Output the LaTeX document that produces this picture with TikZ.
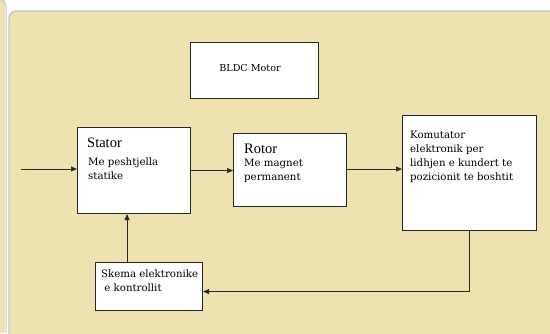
\documentclass[tikz,border=0pt]{standalone}
\usepackage{fontspec}
\usepackage{xcolor}
\usetikzlibrary{arrows.meta}
\newfontfamily\headfont{Liberation Serif}
\newfontfamily\bodyfont{DejaVu Serif}
\definecolor{panel}{RGB}{238,226,177}
\definecolor{rim}{RGB}{196,196,196}

\begin{document}
\begin{tikzpicture}[x=1pt,y=-1pt,
  blk/.style={draw=black!85,line width=1.1pt,fill=white,inner sep=0pt,anchor=north west},
  hd/.style={font=\headfont\fontsize{14.5}{16}\selectfont,inner sep=0pt,anchor=base west},
  txt/.style={font=\bodyfont\fontsize{10.2}{14}\selectfont,align=left,inner sep=0pt,anchor=north west},
  flow/.style={-{Triangle[length=6pt,width=5pt]},line width=0.7pt,black!85}]
\useasboundingbox (0,0) rectangle (550,333);
% background
\fill[white] (0,0) rectangle (550,333);
\fill[panel] (0,0) rectangle (5,333);
\draw[rim,line width=1pt] (1,0) to[out=0,in=90] (6,6) -- (6,333);
\draw[rim,fill=panel,line width=1.2pt] (560,11) -- (16,11) to[out=180,in=90] (9,18) -- (9,345) -- (560,345);
% blocks
\node[blk,minimum width=128,minimum height=56] (motor) at (190,42) {};
\node[font=\bodyfont\fontsize{9.6}{11}\selectfont] (motorT) at (250,68) {BLDC Motor};
\node[blk,minimum width=113,minimum height=86] (stator) at (77,127) {};
\node[hd] (statorH) at (87,147) {Stator};
\node[txt] (statorT) at (88,158) {Me peshtjella\\statike};
\node[blk,minimum width=113,minimum height=73] (rotor) at (233,133) {};
\node[hd] (rotorH) at (244,153) {Rotor};
\node[txt] (rotorT) at (244,159) {Me magnet\\permanent};
\node[blk,minimum width=134,minimum height=115] (kom) at (402,115) {};
\node[txt] (komT) at (410,131) {Komutator\\elektronik per\\lidhjen e kundert te\\pozicionit te boshtit};
\node[blk,minimum width=107,minimum height=48] (skema) at (95,262) {};
\node[txt] (skemaT) at (101,270) {Skema elektronike\\\ e kontrollit};
% connectors
\coordinate (in) at (21,169);
\draw[flow] (in) -- (in -| stator.west);
\draw[flow] (stator.east) -- (stator.east -| rotor.west);
\draw[flow] ([yshift=1pt]rotor.east) -- ([yshift=1pt]rotor.east -| kom.west);
\draw[flow] (kom.south) |- ([yshift=-5pt]skema.east);
\draw[flow] ([xshift=-22pt]skema.north) -- ([xshift=-22pt]skema.north |- stator.south);
\end{tikzpicture}
\end{document}
